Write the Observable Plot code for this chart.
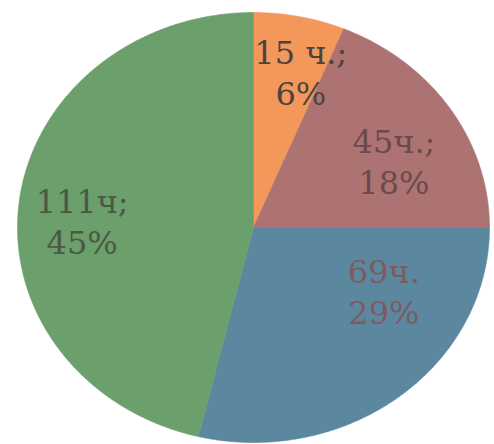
<!DOCTYPE html>
<html><head><meta charset="utf-8">
<script src="https://cdn.jsdelivr.net/npm/d3@7"></script>
<script src="https://cdn.jsdelivr.net/npm/@observablehq/plot@0.6"></script>
<style>body{margin:0;background:#fff}#chart svg{display:block}</style>
</head><body><div id="chart"></div>
<script>
// data
const hours = [15, 45, 69, 111];
const hourLabels = ["15 ч.;", "45ч.;", "69ч.", "111ч;"];
const percentLabels = ["6%", "18%", "29%", "45%"];

// styles (kept apart from data)
const sliceColors = ["#f4975b", "#ad7373", "#5b879f", "#6b9f6b"];
const textColors = ["#4a4440", "#6a4a4a", "#7e5a62", "#4c5846"];
const labelRadius = 0.68;
const labelNudge = [[16, -13], [7, 14], [31, -52], [-12, 10]];

const arcs = d3.pie().sort(null).value(d => d)(hours);

const slicePoints = arcs.map((a, i) => {
  const pts = [{x: 0, y: 0}];
  const n = Math.max(2, Math.ceil((a.endAngle - a.startAngle) / (Math.PI / 360)));
  for (let k = 0; k <= n; k++) {
    const t = a.startAngle + (a.endAngle - a.startAngle) * k / n;
    pts.push({x: Math.sin(t), y: Math.cos(t)});
  }
  pts.push({x: 0, y: 0});
  return pts;
});

const labelData = arcs.map((a, i) => {
  const m = (a.startAngle + a.endAngle) / 2;
  return {x: labelRadius * Math.sin(m), y: labelRadius * Math.cos(m), text: hourLabels[i] + "\n" + percentLabels[i]};
});

const marks = [];
slicePoints.forEach((pts, i) => {
  marks.push(Plot.line(pts, {x: "x", y: "y", fill: sliceColors[i], stroke: sliceColors[i], strokeWidth: 0.6, curve: "linear"}));
});
labelData.forEach((d, i) => {
  marks.push(Plot.text([d], {x: "x", y: "y", text: "text", fill: textColors[i], fontSize: 32,
    fontFamily: "DejaVu Serif", lineHeight: 1.28, textAnchor: "middle",
    dx: labelNudge[i][0], dy: labelNudge[i][1]}));
});

const chart = Plot.plot({
  width: 494, height: 444, margin: 0,
  x: {domain: [-1, 1], range: [17, 489], axis: null},
  y: {domain: [-1, 1], range: [442, 12], axis: null},
  style: {background: "#ffffff"},
  marks
});
document.getElementById("chart").append(chart);
</script>
</body></html>
